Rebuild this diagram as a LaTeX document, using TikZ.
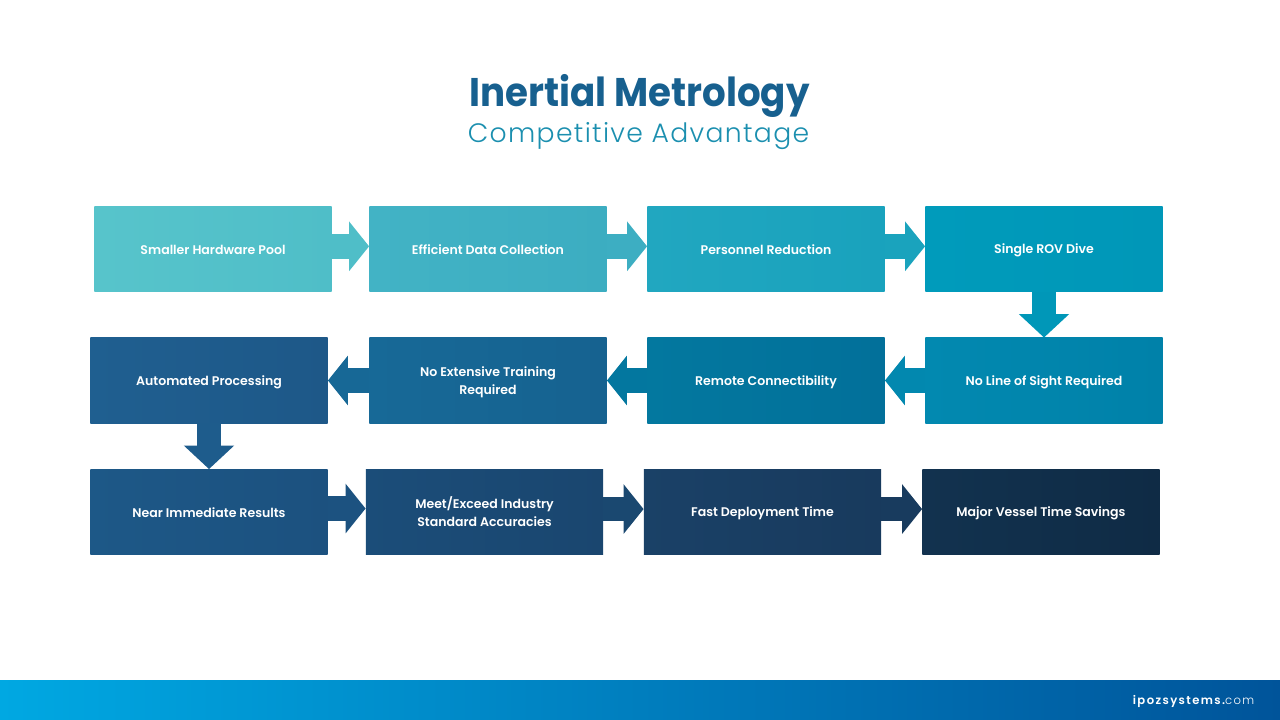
\documentclass[tikz,border=0pt]{standalone}
\usepackage{fontspec}
\setmainfont{Poppins}
\newfontfamily\titlefont[FakeStretch=0.93]{Poppins Bold}
\newfontfamily\boxfont{Poppins SemiBold}
\newfontfamily\thinfont[LetterSpace=5]{Poppins Light}
\newfontfamily\sitefont[LetterSpace=12]{Poppins SemiBold}
\newfontfamily\sitethin[LetterSpace=12]{Poppins Light}
\usetikzlibrary{arrows.meta}
\definecolor{titleblue}{HTML}{17608F}
\definecolor{subteal}{HTML}{1B8FAF}
\definecolor{barleft}{HTML}{00A8E2}
\definecolor{barright}{HTML}{00549A}
\newcommand{\bxstrut}{\rule[-2pt]{0pt}{11.8pt}}

\begin{document}
\begin{tikzpicture}[x=0.75pt,y=-0.75pt,
    bx/.style={minimum width=178pt,minimum height=64pt,inner sep=0pt,text=white,align=center,font=\boxfont\fontsize{9.4}{12}\selectfont},
    harrow/.style={line width=18.5pt,-{Triangle[length=15pt,width=36.5pt]}},
    varrow/.style={line width=18.5pt,-{Triangle[length=17.5pt,width=36.5pt]}}]
    \useasboundingbox (0,0) rectangle (1280,720);
    \shade[left color=barleft,right color=barright] (0,680) rectangle (1280,720);
    \node[font=\titlefont\fontsize{30}{36}\selectfont,text=titleblue] (title) at (639.5,96) {Inertial Metrology};
    \node[font=\thinfont\fontsize{20}{24}\selectfont,text=subteal] (subtitle) at (638.5,136) {Competitive Advantage};
    \node[anchor=east,text=white,font=\fontsize{8.7}{12}\selectfont] (site) at (1259,701) {\sitefont ipozsystems.\sitethin com};
    % boxes, in the order of the flow
    \foreach \c/\d/\x/\y/\t [count=\n] in {
        57C4CB/4FBEC8/213/249/{Smaller Hardware Pool},
        42B3C5/3CADC1/488/249/{Efficient Data Collection},
        21A7C0/19A2BD/766/249/{Personnel Reduction},
        009BBB/0097B8/1044/249/{Single ROV Dive},
        0289B0/0081A9/1044/380.5/{No Line of Sight Required},
        03789F/02709A/766/380.5/{Remote Connectibility},
        176997/166290/488/380.5/{No Extensive Training\\Required\bxstrut},
        1F5F90/1E5888/209/380.5/{Automated Processing},
        1D5887/1C517F/209/512/{Near Immediate Results},
        1B4D79/1A466F/484.5/512/{Meet/Exceed Industry\\Standard Accuracies\bxstrut},
        1A4167/183A5D/762.5/512/{Fast Deployment Time},
        12324F/0F2B45/1041/512/{Major Vessel Time Savings}} {
        \definecolor{ca}{HTML}{\c}
        \definecolor{cb}{HTML}{\d}
        \node[bx,left color=ca,right color=cb] (B\n) at (\x,\y) {\bxstrut\t};
    }
    % connectors
    \foreach \a/\b/\c/\s in {
        B1.east/B2.west/4FBEC8/2,
        B2.east/B3.west/3DAEC2/2,
        B3.east/B4.west/1AA3BD/2,
        B5.west/B6.east/0288AF/0,
        B6.west/B7.east/03779F/0,
        B7.west/B8.east/176896/0,
        B9.east/B10.west/1C5280/2.6,
        B10.east/B11.west/1A4870/2.2,
        B11.east/B12.west/183B5E/2.2} {
        \definecolor{ca}{HTML}{\c}
        \draw[harrow,ca] ([yshift=\s pt]\a) -- ([yshift=\s pt]\b);
    }
    \definecolor{ca}{HTML}{0097B8}
    \draw[varrow,ca] (B4.south) -- (B5.north);
    \definecolor{ca}{HTML}{1E5C8C}
    \draw[varrow,ca] (B8.south) -- (B9.north);
\end{tikzpicture}
\end{document}
